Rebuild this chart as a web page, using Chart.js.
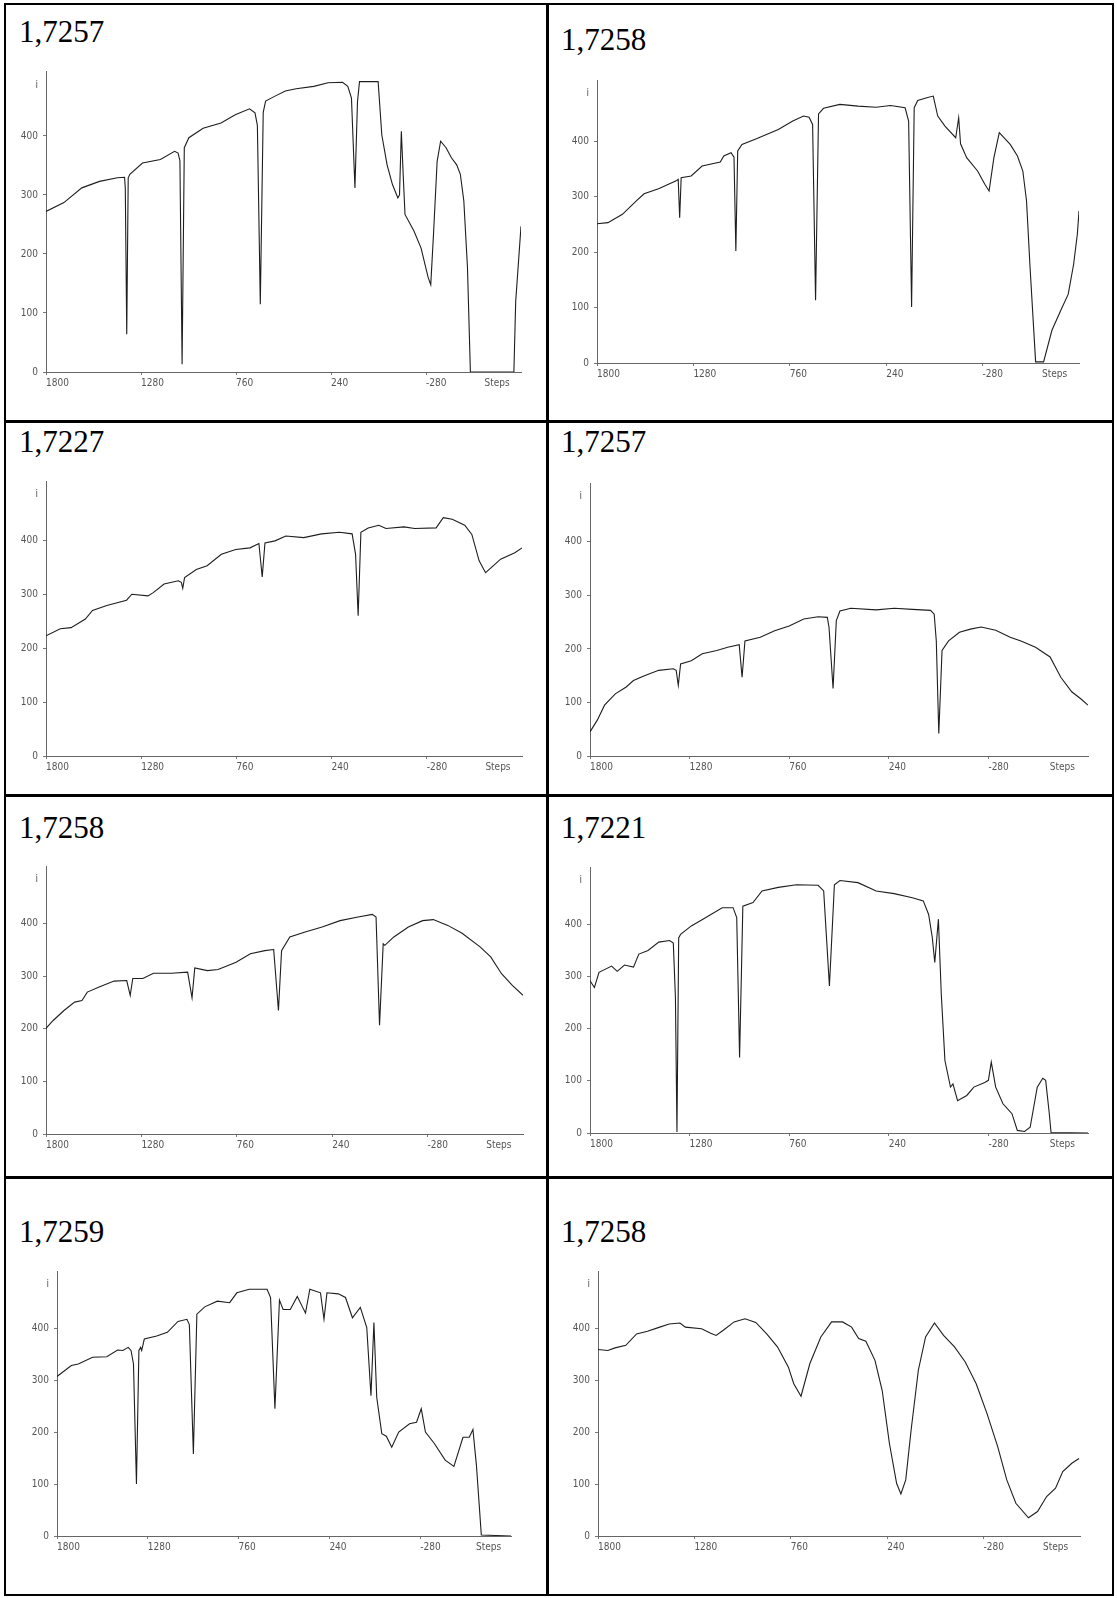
<!DOCTYPE html>
<html>
<head>
<meta charset="utf-8">
<script src="https://cdn.jsdelivr.net/npm/chart.js@4.4.1/dist/chart.umd.min.js"></script>
<style>
  body { margin: 0; background: #fff; width: 1117px; height: 1598px; position: relative; overflow: hidden; }
  .rule { position: absolute; background: #000; }
  .title { position: absolute; font: 31px "Liberation Serif", "Times New Roman", serif; line-height: 31px; color: #000; white-space: nowrap; }
  canvas { position: absolute; }
</style>
</head>
<body>
<script>
// sample titles, one per cell (row by row)
const titles = ['1,7257', '1,7258', '1,7227', '1,7257', '1,7258', '1,7221', '1,7259', '1,7258'];

// axis ticks
const xTicks = [1800, 1280, 760, 240, -280, -600];
const xLabels = ['1800', '1280', '760', '240', '-280', 'Steps'];
const yTicks = [0, 100, 200, 300, 400, 485];
const yLabels = ['0', '100', '200', '300', '400', 'i'];

// traces as [step, i] pairs
const trace1 = [[1800,272],[1702,287],[1604,312],[1507,323],[1409,329],[1370,330],[1366,312],[1358,64],[1350,329],[1341,335],[1272,354],[1174,360],[1096,374],[1077,371],[1067,358],[1055,13],[1043,380],[1018,397],[940,413],[842,422],[764,436],[686,446],[656,439],[643,418],[627,115],[611,440],[598,459],[549,467],[490,476],[431,480],[334,484],[256,490],[177,491],[148,484],[128,464],[109,312],[95,458],[84,492],[-18,492],[-38,402],[-67,351],[-96,318],[-126,295],[-135,300],[-145,408],[-155,335],[-165,267],[-214,239],[-253,210],[-292,160],[-306,148],[-321,233],[-341,357],[-360,391],[-390,380],[-419,363],[-448,351],[-468,335],[-487,290],[-507,177],[-523,0],[-761,0],[-771,120],[-800,247]];

const trace2 = [[1800,251],[1741,253],[1663,268],[1585,293],[1546,305],[1468,314],[1370,329],[1362,331],[1354,262],[1346,334],[1292,337],[1233,355],[1135,362],[1116,373],[1077,379],[1061,371],[1051,202],[1041,382],[1018,394],[940,404],[822,421],[744,436],[686,445],[656,443],[637,430],[621,113],[605,449],[578,459],[490,466],[392,463],[295,461],[216,464],[138,460],[119,436],[103,101],[89,460],[70,473],[21,478],[-14,481],[-38,445],[-77,427],[-135,406],[-151,442],[-161,395],[-194,370],[-253,346],[-292,322],[-315,310],[-341,370],[-370,415],[-429,394],[-468,373],[-497,346],[-517,292],[-536,172],[-566,2],[-609,2],[-654,59],[-702,95],[-742,124],[-771,178],[-791,232],[-800,274]];

const trace3 = [[1800,223],[1722,236],[1663,238],[1585,254],[1546,270],[1468,279],[1360,289],[1331,300],[1243,297],[1214,303],[1155,319],[1077,325],[1061,322],[1053,311],[1043,331],[979,346],[920,353],[842,374],[764,383],[686,386],[637,394],[619,332],[604,395],[549,399],[490,408],[392,405],[295,412],[197,415],[128,412],[109,374],[95,260],[80,415],[40,423],[-18,428],[-57,422],[-155,425],[-214,422],[-331,423],[-370,442],[-419,439],[-487,428],[-526,411],[-566,362],[-601,340],[-644,353],[-683,365],[-761,377],[-800,386]];

const trace4 = [[1800,45],[1762,67],[1724,95],[1668,116],[1611,129],[1573,141],[1516,150],[1441,160],[1365,163],[1350,160],[1339,132],[1327,172],[1271,178],[1214,191],[1138,197],[1081,203],[1021,208],[1006,147],[991,215],[911,222],[836,234],[760,243],[684,256],[609,260],[561,259],[552,240],[531,126],[514,253],[495,271],[438,276],[306,273],[212,276],[117,274],[22,272],[3,265],[-8,215],[-21,42],[-38,197],[-72,215],[-129,231],[-186,237],[-242,241],[-318,235],[-394,222],[-450,215],[-526,203],[-602,185],[-658,147],[-715,120],[-762,107],[-800,95]];

const trace5 = [[1800,201],[1761,216],[1702,235],[1644,251],[1604,254],[1575,270],[1507,280],[1429,291],[1360,292],[1341,264],[1327,296],[1272,296],[1214,306],[1116,306],[1028,308],[1004,259],[989,316],[920,311],[862,313],[764,327],[686,343],[607,349],[559,351],[533,235],[516,349],[471,375],[392,384],[295,394],[197,406],[99,413],[21,418],[1,413],[-18,207],[-38,362],[-47,359],[-96,375],[-175,394],[-253,406],[-311,408],[-390,397],[-468,382],[-566,356],[-624,337],[-683,305],[-742,283],[-800,264]];

const trace6 = [[1800,292],[1777,279],[1753,308],[1687,320],[1658,310],[1620,322],[1573,318],[1545,343],[1497,350],[1441,366],[1384,369],[1365,364],[1354,260],[1346,2],[1337,374],[1327,381],[1271,397],[1195,413],[1110,432],[1053,432],[1034,413],[1019,145],[1002,435],[949,442],[902,464],[817,471],[722,476],[609,475],[580,464],[550,282],[524,476],[495,484],[401,480],[306,464],[212,459],[117,451],[60,445],[32,419],[13,375],[0,327],[-19,410],[-34,266],[-53,139],[-82,88],[-95,94],[-119,62],[-167,72],[-204,88],[-261,97],[-280,101],[-295,136],[-318,88],[-356,56],[-403,37],[-431,5],[-469,3],[-498,11],[-535,88],[-564,105],[-579,101],[-598,37],[-607,1],[-800,0]];

const trace7 = [[1800,307],[1718,328],[1678,331],[1596,344],[1515,345],[1453,358],[1423,357],[1392,363],[1376,357],[1362,331],[1345,100],[1331,357],[1321,363],[1315,357],[1300,379],[1229,385],[1168,392],[1107,413],[1056,417],[1042,407],[1019,158],[999,427],[954,441],[882,452],[811,449],[770,468],[699,475],[597,475],[577,459],[552,245],[526,454],[505,436],[464,436],[424,461],[393,440],[377,429],[352,475],[291,468],[271,417],[254,468],[189,466],[148,459],[108,420],[63,440],[26,401],[2,270],[-15,411],[-31,267],[-60,197],[-86,192],[-117,171],[-157,200],[-219,216],[-259,219],[-286,245],[-310,200],[-361,178],[-423,146],[-473,134],[-525,190],[-561,190],[-582,205],[-602,136],[-630,2],[-800,0]];

const trace8 = [[1800,359],[1747,357],[1708,362],[1650,367],[1592,389],[1533,394],[1475,401],[1416,408],[1358,410],[1329,402],[1241,399],[1192,390],[1163,386],[1124,396],[1066,412],[1007,418],[949,411],[890,389],[832,364],[773,325],[744,293],[705,269],[657,332],[598,383],[540,412],[481,412],[432,402],[394,380],[355,375],[306,338],[267,280],[228,178],[189,101],[166,81],[140,108],[111,204],[72,319],[33,383],[-15,410],[-64,386],[-123,364],[-181,335],[-240,293],[-298,236],[-356,172],[-405,108],[-454,63],[-522,35],[-571,47],[-620,76],[-668,92],[-707,124],[-756,140],[-795,149]];

const traces = [trace1, trace2, trace3, trace4, trace5, trace6, trace7, trace8];

// where each scanned plot sits on the page (axis corner, extents, title baseline)
const boxes = [
  { ax: 46,  right: 521,  top: 69.5,   bottom: 371.7,  tx: 19,  tb: 41.7 },
  { ax: 597, right: 1079, top: 78.6,   bottom: 362.7,  tx: 561, tb: 50 },
  { ax: 46,  right: 522,  top: 479.6,  bottom: 756,    tx: 19,  tb: 451.7 },
  { ax: 590, right: 1088, top: 481.6,  bottom: 756,    tx: 561, tb: 451.7 },
  { ax: 46,  right: 523,  top: 865.2,  bottom: 1134,   tx: 19,  tb: 838 },
  { ax: 590, right: 1088, top: 866,    bottom: 1132.7, tx: 561, tb: 838 },
  { ax: 57,  right: 511,  top: 1269.8, bottom: 1536,   tx: 19,  tb: 1241.7 },
  { ax: 598, right: 1080, top: 1270.3, bottom: 1536,   tx: 561, tb: 1241.7 }
];

// table rules
function rule(x, y, w, h) {
  const d = document.createElement('div');
  d.className = 'rule';
  d.style.left = x + 'px'; d.style.top = y + 'px';
  d.style.width = w + 'px'; d.style.height = h + 'px';
  document.body.appendChild(d);
}
rule(4, 3, 2, 1593);
rule(546, 3, 3, 1593);
rule(1112, 3, 2, 1593);
rule(4, 3, 1110, 2);
rule(4, 420, 1110, 3);
rule(4, 794, 1110, 3);
rule(4, 1176, 1110, 3);
rule(4, 1594, 1110, 2);

const tickFont = { family: '"Liberation Sans Narrow", "DejaVu Sans Condensed", sans-serif', size: 10 };
const Y_W = 40, X_H = 24, PAD_TOP = 10, PAD_RIGHT = 4;

function makeChart(trace, box, title) {
  const t = document.createElement('div');
  t.className = 'title';
  t.textContent = title;
  t.style.left = box.tx + 'px';
  t.style.top = (box.tb - 26) + 'px';
  document.body.appendChild(t);

  const left = Math.round(box.ax - Y_W);
  const top = Math.round(box.top - PAD_TOP);
  const w = Math.round(box.right + PAD_RIGHT) - left;
  const h = Math.round(box.bottom + X_H) - top;
  const c = document.createElement('canvas');
  c.width = w; c.height = h;
  c.style.left = left + 'px'; c.style.top = top + 'px';
  c.style.width = w + 'px'; c.style.height = h + 'px';
  document.body.appendChild(c);

  new Chart(c, {
    type: 'line',
    data: {
      datasets: [{
        data: trace.map(p => ({ x: p[0], y: p[1] })),
        borderColor: '#1e1e1e',
        borderWidth: 1.1,
        pointRadius: 0,
        tension: 0,
        fill: false
      }]
    },
    options: {
      responsive: false,
      animation: false,
      events: [],
      layout: { padding: { top: PAD_TOP, right: PAD_RIGHT, left: 0, bottom: 0 } },
      plugins: { legend: { display: false }, tooltip: { enabled: false } },
      scales: {
        x: {
          type: 'linear',
          reverse: true,
          min: -800,
          max: 1800,
          afterBuildTicks: s => { s.ticks = xTicks.map(v => ({ value: v })); },
          afterFit: s => { s.height = X_H; },
          ticks: {
            autoSkip: false,
            maxRotation: 0,
            align: 'start',
            padding: 2,
            color: '#555',
            font: tickFont,
            callback: (v, i) => xLabels[i]
          },
          grid: {
            drawOnChartArea: false,
            tickLength: 3,
            tickColor: ctx => ctx.index === xTicks.length - 1 ? 'rgba(0,0,0,0)' : '#777'
          },
          border: { color: '#666', width: 1 }
        },
        y: {
          min: 0,
          max: 510,
          afterBuildTicks: s => { s.ticks = yTicks.map(v => ({ value: v })); },
          afterFit: s => { s.width = Y_W; },
          ticks: {
            autoSkip: false,
            padding: 5,
            color: '#555',
            font: tickFont,
            callback: (v, i) => yLabels[i]
          },
          grid: {
            drawOnChartArea: false,
            tickLength: 3,
            tickColor: ctx => ctx.index === yTicks.length - 1 ? 'rgba(0,0,0,0)' : '#777'
          },
          border: { color: '#666', width: 1 }
        }
      }
    }
  });
}

traces.forEach((tr, i) => makeChart(tr, boxes[i], titles[i]));
</script>
</body>
</html>
